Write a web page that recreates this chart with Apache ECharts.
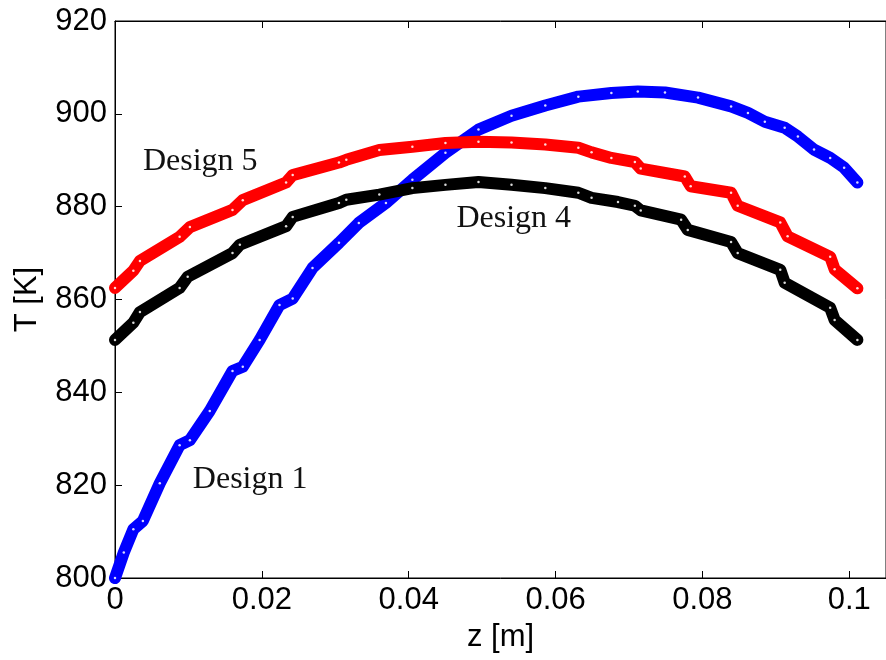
<!DOCTYPE html>
<html>
<head>
<meta charset="utf-8">
<title>T vs z</title>
<script src="https://cdn.jsdelivr.net/npm/echarts@6/dist/echarts.min.js"></script>
<style>
    html, body { margin: 0; padding: 0; background: #fff; }
    #temp-chart { width: 886px; height: 660px; }
</style>
</head>
<body>
<div id="temp-chart"></div>
<script>
// values: z [m] and T [K]
const zDesign1 = [0, 0.0012, 0.0025, 0.0038, 0.0061, 0.0088, 0.0102, 0.0129, 0.016, 0.0174, 0.0197, 0.0224, 0.0242,
    0.0269, 0.0305, 0.0332, 0.0369, 0.0405, 0.045, 0.0495, 0.054, 0.0586, 0.0631, 0.0676, 0.0712, 0.0749, 0.0794,
    0.0839, 0.0862, 0.0885, 0.0912, 0.093, 0.0952, 0.0974, 0.0993, 0.1011];
const tDesign1 = [800, 805.5, 810.5, 812.3, 820.4, 828.6, 829.7, 836, 844.6, 845.5, 851.3, 858.8, 860.2,
    866.8, 872.2, 876.5, 880.8, 885.8, 891.6, 896.6, 899.6, 901.8, 903.7, 904.5, 904.8, 904.6, 903.5,
    901.6, 900.2, 898.3, 897, 895.1, 892.3, 890.5, 888.4, 885.2];

const zDesign4 = [0, 0.0025, 0.0034, 0.0088, 0.0099, 0.016, 0.017, 0.0233, 0.0242, 0.0305, 0.0315, 0.036, 0.0405,
    0.045, 0.0495, 0.054, 0.0586, 0.0631, 0.0649, 0.0685, 0.0708, 0.0716, 0.0771, 0.078, 0.0839, 0.0848, 0.0906,
    0.0912, 0.0974, 0.098, 0.1011];
const tDesign4 = [851.3, 855, 857.3, 862.5, 864.9, 870, 871.8, 875.8, 877.8, 880.8, 881.5, 882.6, 884,
    884.7, 885.3, 884.7, 884, 883, 881.9, 881, 880.2, 879.2, 877.2, 875, 872.4, 870, 866.4,
    863.6, 858.2, 855.6, 851.3];

const zDesign5 = [0, 0.0025, 0.0034, 0.0088, 0.0102, 0.016, 0.0174, 0.0233, 0.0242, 0.0305, 0.0315, 0.036, 0.0405,
    0.045, 0.0495, 0.054, 0.0586, 0.0631, 0.0649, 0.0676, 0.0708, 0.0716, 0.0776, 0.0784, 0.0839, 0.0848, 0.0906,
    0.0916, 0.0974, 0.098, 0.1011];
const tDesign5 = [862.5, 866.2, 868.3, 873.5, 875.6, 879.3, 881.4, 885.2, 886.8, 889.5, 890.1, 892.2, 892.9,
    893.7, 894, 893.8, 893.4, 892.7, 891.7, 890.5, 889.6, 888.2, 886.5, 884.4, 883, 880.2, 876.6,
    873.6, 869.2, 866.5, 862.4];

const xTicks = [0, 0.02, 0.04, 0.06, 0.08, 0.1];
const yTicks = [800, 820, 840, 860, 880, 900, 920];

// where the text labels sit, in data units (left edge, vertical middle)
const labelDesign1 = [0.0106, 821.3];
const labelDesign4 = [0.0465, 877.4];
const labelDesign5 = [0.0038, 889.7];

function pairs(xs, ys) {
    return xs.map((x, i) => [x, ys[i]]);
}

function curve(name, xs, ys, color, label, anchor) {
    return {
        name: name,
        type: 'line',
        data: pairs(xs, ys),
        symbol: 'circle',
        symbolSize: 2.5,
        itemStyle: { color: '#ffffff', opacity: 0.85 },
        lineStyle: { color: color, width: 12, cap: 'round', join: 'round' },
        emphasis: { disabled: true },
        markPoint: {
            symbol: 'circle',
            symbolSize: 0,
            silent: true,
            data: [{ coord: anchor }],
            label: {
                show: true,
                position: 'right',
                distance: 0,
                formatter: label,
                fontFamily: 'Liberation Serif',
                fontSize: 32,
                color: '#111111'
            }
        }
    };
}

const chart = echarts.init(document.getElementById('temp-chart'));

const tickFont = { fontFamily: 'Liberation Sans', fontSize: 31, color: '#000000' };

const option = {
    animation: false,
    backgroundColor: '#ffffff',
    grid: {
        left: 115,
        right: -3,
        top: 21,
        bottom: 82,
        show: true,
        borderColor: '#000000',
        borderWidth: 1
    },
    xAxis: [{
        type: 'value',
        min: 0,
        max: 0.105,
        interval: 0.02,
        name: 'z [m]',
        nameLocation: 'middle',
        nameGap: 44,
        nameTextStyle: tickFont,
        axisLine: { lineStyle: { color: '#000000', width: 1 } },
        axisTick: { inside: true, length: 7, lineStyle: { color: '#000000' } },
        splitLine: { show: false },
        axisLabel: Object.assign({
            margin: 7,
            showMaxLabel: false,
            formatter: function (v) {
                let t = xTicks.find(a => Math.abs(a - v) < 1e-9);
                return t === undefined ? '' : String(t);
            }
        }, tickFont)
    }, {
        type: 'value',
        position: 'top',
        min: 0,
        max: 0.105,
        interval: 0.02,
        axisLine: { lineStyle: { color: '#000000', width: 1 } },
        axisTick: { inside: true, length: 7, lineStyle: { color: '#000000' } },
        axisLabel: { show: false },
        splitLine: { show: false }
    }],
    yAxis: {
        type: 'value',
        min: yTicks[0],
        max: yTicks[yTicks.length - 1],
        interval: 20,
        name: 'T [K]',
        nameLocation: 'middle',
        nameGap: 72,
        nameTextStyle: tickFont,
        axisLine: { show: true, lineStyle: { color: '#000000', width: 1 } },
        axisTick: { inside: true, length: 7, lineStyle: { color: '#000000' } },
        splitLine: { show: false },
        axisLabel: Object.assign({ margin: 8 }, tickFont)
    },
    series: [
        curve('Design 1', zDesign1, tDesign1, '#0000ff', 'Design 1', labelDesign1),
        curve('Design 4', zDesign4, tDesign4, '#000000', 'Design 4', labelDesign4),
        curve('Design 5', zDesign5, tDesign5, '#ff0000', 'Design 5', labelDesign5)
    ]
};

chart.setOption(option);
</script>
</body>
</html>
